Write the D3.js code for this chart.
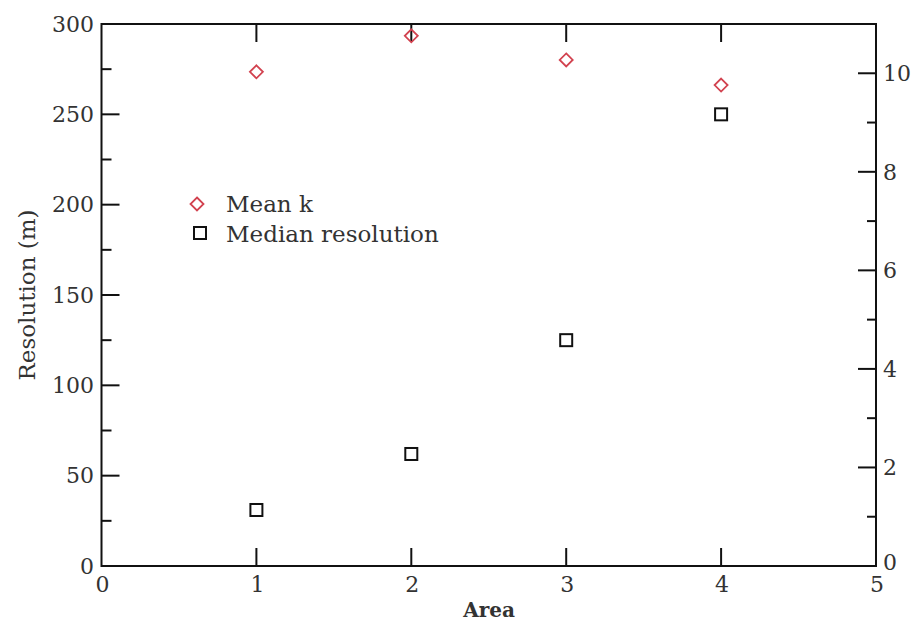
<!DOCTYPE html>
<html>
<head>
<meta charset="utf-8">
<script src="https://cdn.jsdelivr.net/npm/d3@7"></script>
<style>
  html, body { margin: 0; padding: 0; background: #fff; }
  svg text { font-family: "DejaVu Serif", "Liberation Serif", serif; fill: #333; }
</style>
</head>
<body>
<svg id="chart" width="914" height="625"></svg>
<script>
// Areas on the x axis
const areas = [1, 2, 3, 4];
// Median resolution (m), left axis
const medianResolution = [31, 62, 125, 250];
// Mean k, right axis
const meanK = [10.03, 10.76, 10.27, 9.76];

const xTicks = [0, 1, 2, 3, 4, 5];
const leftTicks = [0, 50, 100, 150, 200, 250, 300];
const leftMinor = [25, 75, 125, 175, 225, 275];
const rightTicks = [0, 2, 4, 6, 8, 10];
const rightMinor = [1, 3, 5, 7, 9];

const svg = d3.select("#chart");
const L = 101.5, R = 876, T = 24, B = 566;

const x = d3.scaleLinear().domain([0, 5]).range([L, R]);
const yL = d3.scaleLinear().domain([0, 300]).range([B, T]);
const yR = d3.scaleLinear().domain([0, 11]).range([B, T]);

const axisColor = "#111";
const g = svg.append("g");

// Frame
g.append("rect").attr("x", L).attr("y", T).attr("width", R - L).attr("height", B - T)
  .attr("fill", "none").attr("stroke", axisColor).attr("stroke-width", 2);

// X ticks (bottom and top, inward)
xTicks.slice(1, -1).forEach(v => {
  g.append("line").attr("x1", x(v)).attr("x2", x(v)).attr("y1", B).attr("y2", B - 18)
    .attr("stroke", axisColor).attr("stroke-width", 2);
  g.append("line").attr("x1", x(v)).attr("x2", x(v)).attr("y1", T).attr("y2", T + 18)
    .attr("stroke", axisColor).attr("stroke-width", 2);
});
xTicks.forEach(v => {
  g.append("text").attr("x", x(v) + 1).attr("y", 592).attr("text-anchor", "middle")
    .attr("font-size", 22).text(v);
});

// Left ticks
leftTicks.slice(1, -1).forEach(v => {
  g.append("line").attr("x1", L).attr("x2", L + 18).attr("y1", yL(v)).attr("y2", yL(v))
    .attr("stroke", axisColor).attr("stroke-width", 2);
});
leftMinor.forEach(v => {
  g.append("line").attr("x1", L).attr("x2", L + 10).attr("y1", yL(v)).attr("y2", yL(v))
    .attr("stroke", axisColor).attr("stroke-width", 2);
});
leftTicks.forEach(v => {
  g.append("text").attr("x", 94).attr("y", yL(v)).attr("dy", "0.35em")
    .attr("text-anchor", "end").attr("font-size", 22).text(v);
});

// Right ticks
rightTicks.slice(1).forEach(v => {
  g.append("line").attr("x1", R).attr("x2", R - 18).attr("y1", yR(v)).attr("y2", yR(v))
    .attr("stroke", axisColor).attr("stroke-width", 2);
});
rightMinor.forEach(v => {
  g.append("line").attr("x1", R).attr("x2", R - 9).attr("y1", yR(v)).attr("y2", yR(v))
    .attr("stroke", axisColor).attr("stroke-width", 2);
});
rightTicks.forEach(v => {
  g.append("text").attr("x", 883).attr("y", yR(v) - (v === 0 ? 4 : 0)).attr("dy", "0.35em")
    .attr("text-anchor", "start").attr("font-size", 22).text(v);
});

// Axis titles
svg.append("text").attr("x", 489).attr("y", 617).attr("text-anchor", "middle")
  .attr("font-size", 20).attr("font-weight", "bold").text("Area");
svg.append("text").attr("transform", "translate(35,295) rotate(-90)")
  .attr("text-anchor", "middle").attr("font-size", 23).text("Resolution (m)");

// Symbols
const diamond = (cx, cy, r) => `M${cx},${cy - r}L${cx + r},${cy}L${cx},${cy + r}L${cx - r},${cy}Z`;
const red = "#d2424f";

svg.append("g").selectAll("rect").data(areas).join("rect")
  .attr("x", (d, i) => x(d) - 6).attr("y", (d, i) => yL(medianResolution[i]) - 6)
  .attr("width", 12).attr("height", 12)
  .attr("fill", "none").attr("stroke", "#111").attr("stroke-width", 2);

svg.append("g").selectAll("path").data(areas).join("path")
  .attr("d", (d, i) => diamond(x(d), yR(meanK[i]), 6.5))
  .attr("fill", "none").attr("stroke", red).attr("stroke-width", 1.8);

// Legend
const lg = svg.append("g");
lg.append("path").attr("d", diamond(197, 204, 6.5))
  .attr("fill", "none").attr("stroke", red).attr("stroke-width", 1.8);
lg.append("text").attr("x", 226).attr("y", 204).attr("dy", "0.35em")
  .attr("font-size", 23).text("Mean k");
lg.append("rect").attr("x", 194).attr("y", 227).attr("width", 12).attr("height", 12)
  .attr("fill", "none").attr("stroke", "#111").attr("stroke-width", 2);
lg.append("text").attr("x", 226).attr("y", 234).attr("dy", "0.35em")
  .attr("font-size", 23).text("Median resolution");
</script>
</body>
</html>
